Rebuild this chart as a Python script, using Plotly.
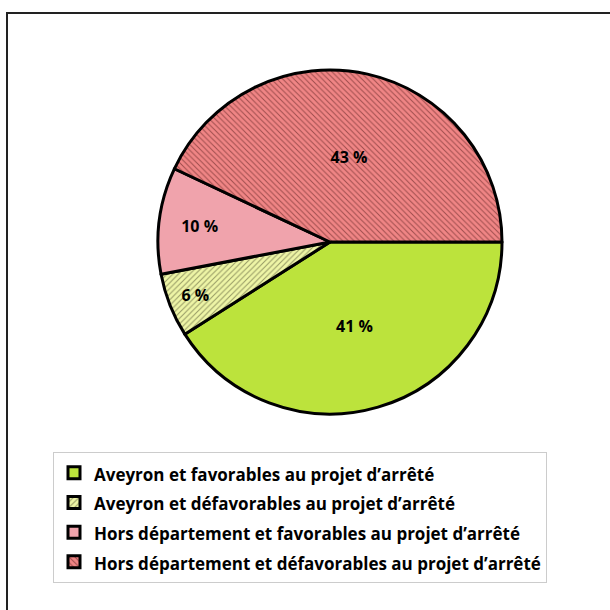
import plotly.graph_objects as go

labels = [
    "Aveyron et favorables au projet d\u2019arrêté",
    "Aveyron et défavorables au projet d\u2019arrêté",
    "Hors département et favorables au projet d\u2019arrêté",
    "Hors département et défavorables au projet d\u2019arrêté",
]
values = [41, 6, 10, 43]
colors = ["#BCE33C", "#EEF5A6", "#F0A3AC", "#F08585"]
hatch = ["", "/", "", "\\"]
hatch_fg = ["#000000", "#3a3a20", "#000000", "#4a1515"]

W = H = 610
def px(x): return x / W
def py(y): return 1 - y / H

fig = go.Figure()
fig.add_trace(go.Pie(
    labels=[f'<span style="font-size:17px">{l}</span>' for l in labels],
    values=values,
    sort=False,
    direction="clockwise",
    rotation=90,
    marker=dict(
        colors=colors,
        line=dict(color="#000000", width=3),
        pattern=dict(shape=hatch, fgcolor=hatch_fg, fillmode="overlay", size=4, solidity=0.25),
    ),
    texttemplate="%{value:.0f} %",
    textposition="inside",
    insidetextorientation="horizontal",
    textfont=dict(family="Open Sans", size=16, color="#000000", weight="bold"),
    domain=dict(x=[px(158), px(502)], y=[py(414), py(70)]),
    hoverinfo="label+percent",
))

fig.update_layout(
    width=W, height=H,
    margin=dict(l=0, r=0, t=0, b=0),
    paper_bgcolor="white",
    showlegend=True,
    legend=dict(
        x=px(53), y=py(452), xanchor="left", yanchor="top",
        font=dict(family="Open Sans", size=20.5, color="#000000", weight="bold"),
        bordercolor="#cccccc", borderwidth=1, bgcolor="white",
        itemwidth=30,
    ),
    shapes=[dict(type="rect", xref="paper", yref="paper",
                 x0=px(7), y0=py(13), x1=px(625), y1=py(625),
                 line=dict(color="#222222", width=2), fillcolor="rgba(0,0,0,0)", layer="below")],
)

fig.write_html("out.html", config={"displayModeBar": False},
               post_script="document.body.style.margin='0px';")
